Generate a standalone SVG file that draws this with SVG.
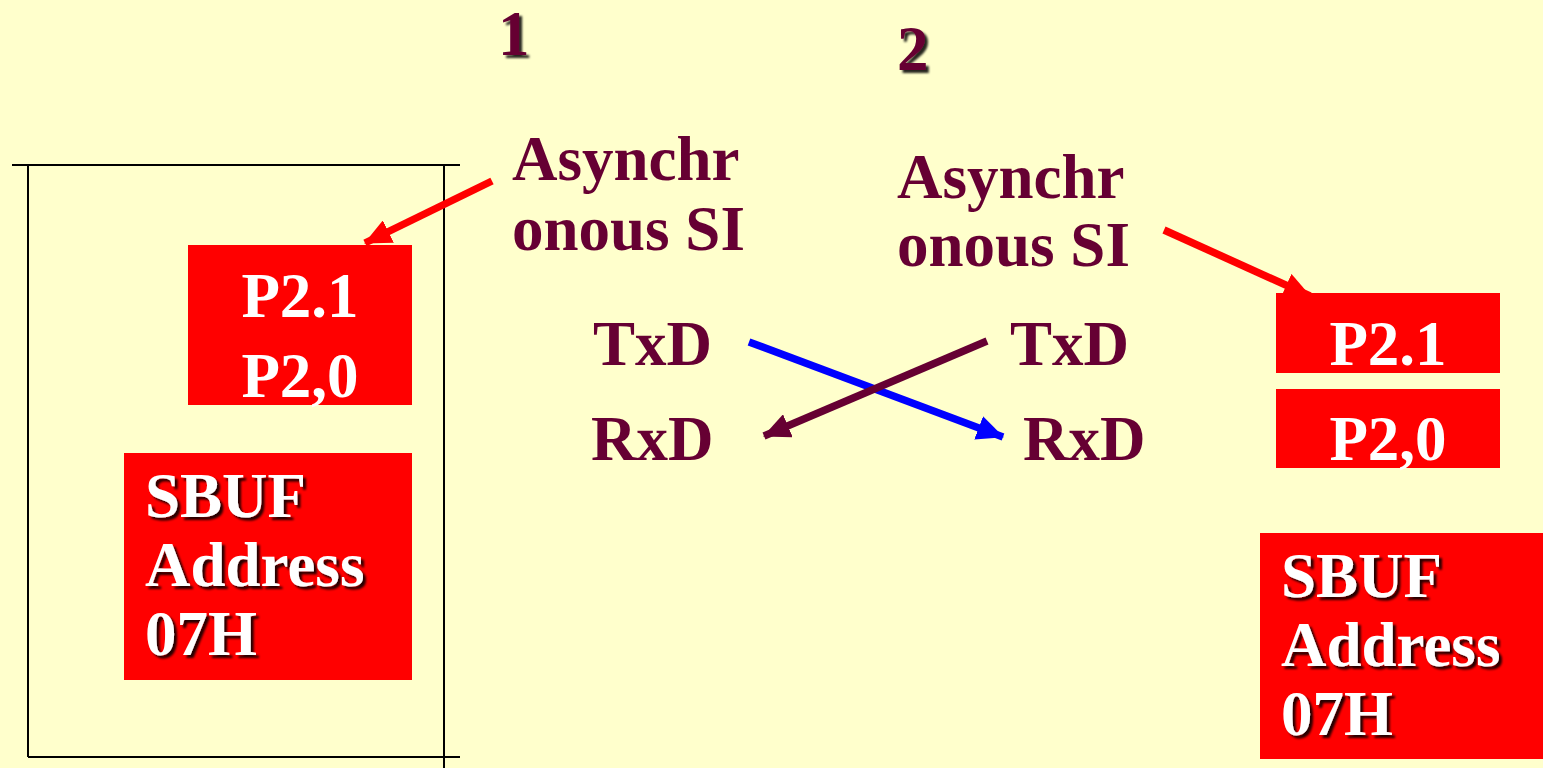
<svg xmlns="http://www.w3.org/2000/svg" width="1543" height="768" viewBox="0 0 1543 768">
<style>
.t{font-family:"Liberation Serif","Times New Roman",serif;font-weight:bold;font-size:63px}
.m{fill:#660033}
.w{fill:#ffffff}
.box{fill:#ff0000}
.frame{stroke:#000;stroke-width:2;fill:none}
.sh{filter:url(#ds)}
</style>
<defs>
<filter id="ds" x="-10%" y="-10%" width="130%" height="140%">
<feDropShadow dx="3" dy="3" stdDeviation="1" flood-color="#000" flood-opacity="0.85"/>
</filter>
<marker id="ar" viewBox="0 0 27 25" refX="26" refY="12.5" markerWidth="27" markerHeight="25" markerUnits="userSpaceOnUse" orient="auto"><path d="M0,0 L27,12.5 L0,25 z" fill="#ff0000"/></marker>
<marker id="ab" viewBox="0 0 27 25" refX="26" refY="12.5" markerWidth="27" markerHeight="25" markerUnits="userSpaceOnUse" orient="auto"><path d="M0,0 L27,12.5 L0,25 z" fill="#0000ff"/></marker>
<marker id="am" viewBox="0 0 27 25" refX="26" refY="12.5" markerWidth="27" markerHeight="25" markerUnits="userSpaceOnUse" orient="auto"><path d="M0,0 L27,12.5 L0,25 z" fill="#660033"/></marker>
</defs>
<rect width="1543" height="768" fill="#ffffcc"/>
<g id="frame1" class="frame">
<line x1="12" y1="165" x2="460" y2="165"/>
<line x1="28" y1="165" x2="28" y2="757"/>
<line x1="444" y1="165" x2="444" y2="768"/>
<line x1="28" y1="757" x2="460" y2="757"/>
</g>
<g id="label1"><text class="t m sh" x="498" y="55">1</text></g>
<g id="label2"><text class="t m sh" x="897" y="70">2</text></g>
<g id="asi1"><text class="t m" x="512" y="180">Asynchr</text><text class="t m" x="512" y="250">onous SI</text></g>
<g id="asi2"><text class="t m" x="897" y="198">Asynchr</text><text class="t m" x="897" y="266">onous SI</text></g>
<g id="txd1"><text class="t m" x="593" y="365">TxD</text></g>
<g id="rxd1"><text class="t m" x="591" y="460">RxD</text></g>
<g id="txd2"><text class="t m" x="1010" y="365">TxD</text></g>
<g id="rxd2"><text class="t m" x="1023" y="460">RxD</text></g>
<g id="p2left"><rect class="box" x="188" y="245" width="224" height="160"/><text class="t w" x="300" y="317" text-anchor="middle">P2.1</text><text class="t w" x="300" y="397" text-anchor="middle">P2,0</text></g>
<g id="p21right"><rect class="box" x="1276" y="293" width="224" height="80"/><text class="t w" x="1388" y="365" text-anchor="middle">P2.1</text></g>
<g id="p20right"><rect class="box" x="1276" y="389" width="224" height="79"/><text class="t w" x="1388" y="460" text-anchor="middle">P2,0</text></g>
<g id="sbuf1"><rect class="box" x="124" y="453" width="288" height="227"/><g class="sh"><text class="t w" x="145" y="517">SBUF</text><text class="t w" x="145" y="586">Address</text><text class="t w" x="145" y="655">07H</text></g></g>
<g id="sbuf2"><rect class="box" x="1260" y="533" width="283" height="226"/><g class="sh"><text class="t w" x="1281" y="597">SBUF</text><text class="t w" x="1281" y="666">Address</text><text class="t w" x="1281" y="735">07H</text></g></g>
<g id="connectors" fill="none" stroke-width="7.5">
<line x1="492" y1="181" x2="365" y2="243" stroke="#ff0000" marker-end="url(#ar)"/>
<line x1="1164" y1="230" x2="1310" y2="296" stroke="#ff0000" marker-end="url(#ar)"/>
<line x1="749" y1="342" x2="1003" y2="437" stroke="#0000ff" marker-end="url(#ab)"/>
<line x1="987" y1="341" x2="764" y2="436" stroke="#660033" marker-end="url(#am)"/>
</g>
</svg>
